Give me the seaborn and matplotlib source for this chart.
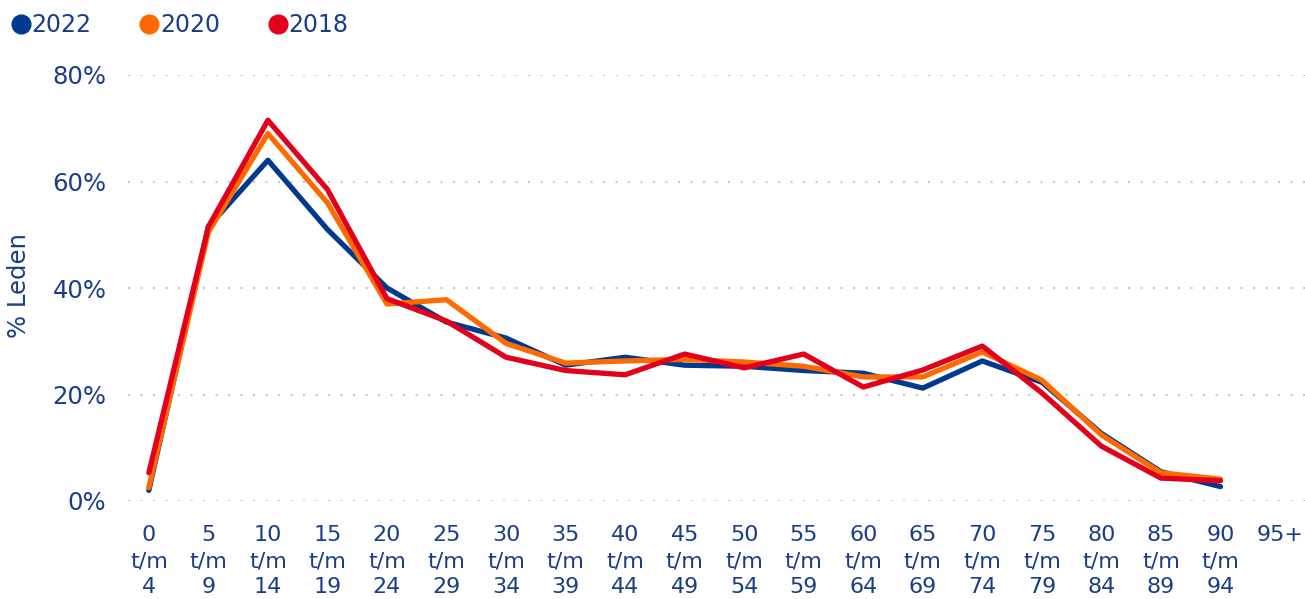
import numpy as np
import pandas as pd
import matplotlib
matplotlib.use("Agg")
import matplotlib.pyplot as plt
from matplotlib.lines import Line2D
import seaborn as sns

categories = ["0\nt/m\n4", "5\nt/m\n9", "10\nt/m\n14", "15\nt/m\n19", "20\nt/m\n24",
              "25\nt/m\n29", "30\nt/m\n34", "35\nt/m\n39", "40\nt/m\n44", "45\nt/m\n49",
              "50\nt/m\n54", "55\nt/m\n59", "60\nt/m\n64", "65\nt/m\n69", "70\nt/m\n74",
              "75\nt/m\n79", "80\nt/m\n84", "85\nt/m\n89", "90\nt/m\n94", "95+"]
v2022 = [2.0, 51.5, 64.0, 51.0, 40.0, 33.6, 30.6, 25.5, 27.0, 25.5, 25.3, 24.5, 24.0, 21.2, 26.3, 22.3, 12.7, 5.5, 2.7, np.nan]
v2020 = [2.5, 50.5, 69.0, 56.0, 37.0, 37.8, 29.6, 25.9, 26.3, 26.6, 26.1, 25.3, 23.3, 23.3, 28.0, 22.7, 12.4, 5.3, 4.1, np.nan]
v2018 = [5.3, 51.5, 71.5, 58.5, 38.0, 33.8, 27.0, 24.5, 23.7, 27.6, 25.0, 27.6, 21.4, 24.6, 29.1, 20.3, 10.3, 4.3, 3.8, np.nan]
series_names = ["2022", "2020", "2018"]
colors = ["#003a8f", "#ff6a00", "#e2001a"]
yticks = [0, 20, 40, 60, 80]
ytick_labels = ["0%", "20%", "40%", "60%", "80%"]

text_color = "#1a3d8a"

rows = []
for name, vals in zip(series_names, [v2022, v2020, v2018]):
    for i, v in enumerate(vals):
        rows.append({"pos": i, "value": v, "jaar": name})
df = pd.DataFrame(rows)

sns.set_theme(style="white")
plt.rcParams['font.family'] = ['DejaVu Sans']

fig = plt.figure(figsize=(13.05, 5.99), dpi=100)
ax = fig.add_axes([128/1305, (599-501)/599, 1 - 128/1305, (501-75)/599])

sns.lineplot(data=df.dropna(), x="pos", y="value", hue="jaar", hue_order=series_names,
             palette=colors, linewidth=3.8, ax=ax, legend=False, clip_on=False)

ax.set_xlim(-0.35, 19.42)
ax.set_ylim(0, 80)
ax.set_xticks(range(len(categories)))
ax.set_xticklabels(categories, fontsize=16, color=text_color, linespacing=1.4, va="top")
ax.set_yticks(yticks)
ax.set_yticklabels(ytick_labels, fontsize=17.5, color=text_color)
ax.tick_params(axis="x", length=0, pad=17)
ax.tick_params(axis="y", length=0, pad=15.5)
ax.set_xlabel("")
ax.set_ylabel("")
for s in ax.spines.values():
    s.set_visible(False)
ax.grid(axis="y", color="#c8c8c8", linestyle=(0, (1, 5)), linewidth=1.5)
ax.grid(axis="x", visible=False)
ax.set_axisbelow(True)

fig.text(19/1305, 1 - 286/599, "% Leden", rotation=90, fontsize=17.5, color=text_color,
         ha="center", va="center")

handles = [Line2D([0], [0], marker="o", linestyle="", markersize=13.5, markerfacecolor=c,
                  markeredgecolor=c) for c in colors]
fig.legend(handles, series_names, loc="center left", bbox_to_anchor=(-5/1305, 1 - 25/599),
           ncol=3, frameon=False, fontsize=17, handletextpad=-0.25, columnspacing=1.75,
           labelcolor=text_color, borderaxespad=0, handlelength=1.4)

fig.savefig("out.png", dpi=100)
